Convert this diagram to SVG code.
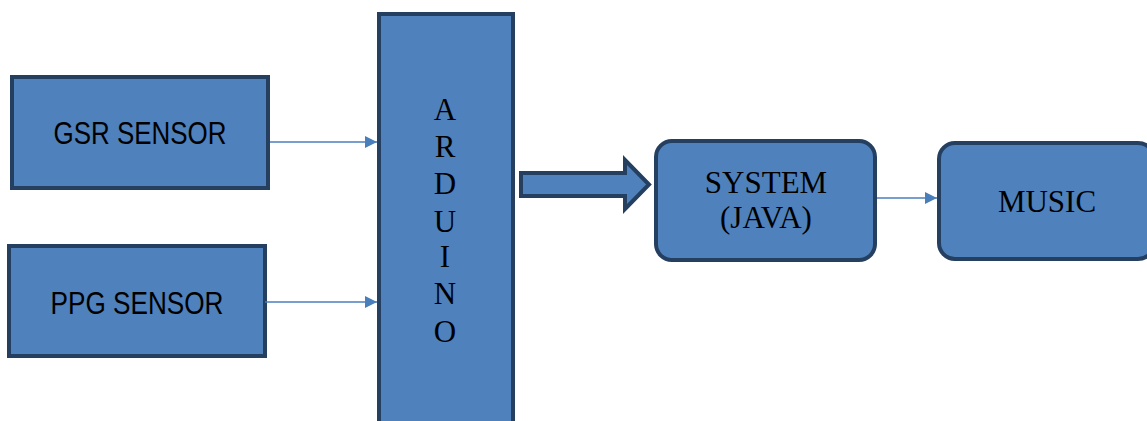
<svg xmlns="http://www.w3.org/2000/svg" width="1147" height="421" viewBox="0 0 1147 421">
<style>
.box{fill:#4F81BD;stroke:#243F60;stroke-width:4}
.sans{font-family:"Liberation Sans",Arial,sans-serif;font-size:31px;fill:#000}
.serif{font-family:"Liberation Serif","Times New Roman",serif;font-size:31px;fill:#000}
.conn{stroke:#4A7EBB;stroke-width:1.5;fill:none}
</style>
<defs>
<marker id="ah" markerWidth="12" markerHeight="12" refX="12" refY="6" orient="auto" markerUnits="userSpaceOnUse">
<path d="M0,0 L12,6 L0,12 Z" fill="#4A7EBB"/>
</marker>
</defs>
<rect width="1147" height="421" fill="#fff"/>
<g id="gsr">
<rect class="box" x="12" y="77" width="256" height="111"/>
<text class="sans" x="140" y="144" text-anchor="middle" textLength="173" lengthAdjust="spacingAndGlyphs">GSR SENSOR</text>
</g>
<g id="ppg">
<rect class="box" x="9" y="246" width="256" height="110"/>
<text class="sans" x="137" y="314" text-anchor="middle" textLength="173" lengthAdjust="spacingAndGlyphs">PPG SENSOR</text>
</g>
<g id="arduino">
<rect class="box" x="379" y="14" width="134" height="430"/>
<g class="serif" text-anchor="middle">
<text x="445" y="120">A</text>
<text x="445" y="157">R</text>
<text x="445" y="194">D</text>
<text x="445" y="232">U</text>
<text x="445" y="267">I</text>
<text x="445" y="304">N</text>
<text x="445" y="342">O</text>
</g>
</g>
<g id="system">
<rect class="box" x="656" y="141" width="219" height="119" rx="16"/>
<text class="serif" x="766" y="193" text-anchor="middle">SYSTEM</text>
<text class="serif" x="766" y="228" text-anchor="middle">(JAVA)</text>
</g>
<g id="music">
<rect class="box" x="939" y="143" width="215" height="116" rx="16"/>
<text class="serif" x="1047" y="212" text-anchor="middle">MUSIC</text>
</g>
<g id="connectors">
<line class="conn" x1="270" y1="142" x2="377" y2="142" marker-end="url(#ah)"/>
<line class="conn" x1="265" y1="302" x2="377" y2="302" marker-end="url(#ah)"/>
<line class="conn" x1="877" y1="198" x2="937" y2="198" marker-end="url(#ah)"/>
<path class="box" d="M521,173 L625,173 L625,160 L649,184.5 L625,209 L625,196 L521,196 Z"/>
</g>
</svg>
